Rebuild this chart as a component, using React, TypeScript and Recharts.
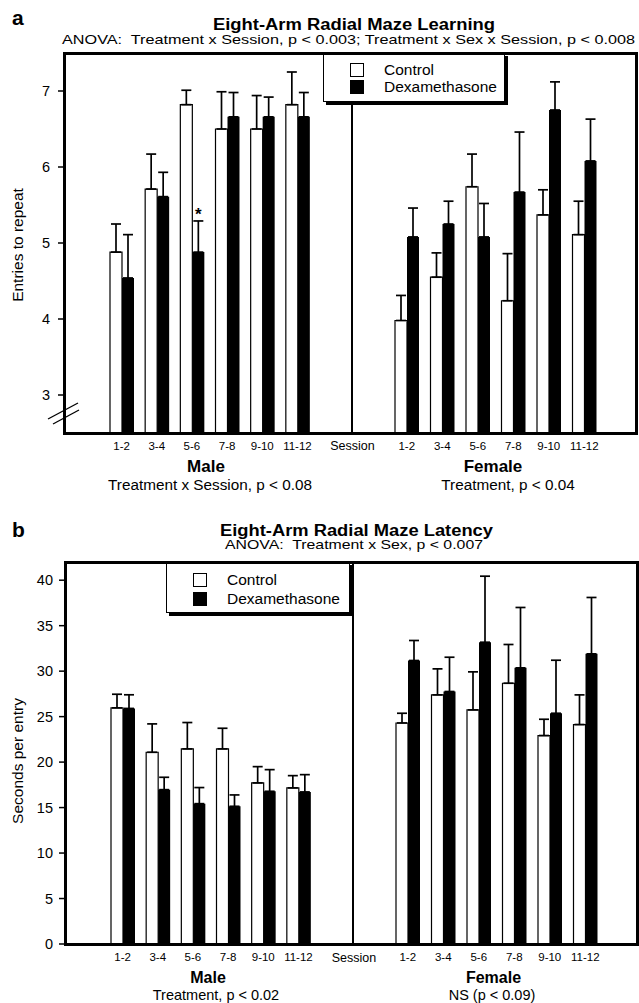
import React from "react"
import { Bar, BarChart, ErrorBar, LabelList, XAxis, YAxis } from "recharts"

// sessions (pairs of trials)
const sessions = ["1-2", "3-4", "5-6", "7-8", "9-10", "11-12"]

// a: entries to repeat, mean and SEM
const learnMaleControl = [4.88, 5.71, 6.82, 6.5, 6.5, 6.82]
const learnMaleControlSem = [0.37, 0.46, 0.19, 0.49, 0.44, 0.43]
const learnMaleDex = [4.54, 5.61, 4.88, 6.66, 6.66, 6.66]
const learnMaleDexSem = [0.57, 0.32, 0.41, 0.32, 0.26, 0.32]
const learnMaleSig = ["", "", "*", "", "", ""]
const learnFemaleControl = [3.98, 4.55, 5.74, 4.24, 5.37, 5.11]
const learnFemaleControlSem = [0.33, 0.32, 0.43, 0.62, 0.33, 0.44]
const learnFemaleDex = [5.08, 5.25, 5.08, 5.67, 6.75, 6.08]
const learnFemaleDexSem = [0.38, 0.3, 0.44, 0.79, 0.37, 0.55]
const learnTicks = [3, 4, 5, 6, 7]

// b: seconds per entry
const latMaleControl = [25.96, 21.08, 21.45, 21.45, 17.71, 17.16]
const latMaleControlSem = [1.5, 3.12, 2.9, 2.27, 1.79, 1.35]
const latMaleDex = [25.9, 16.97, 15.43, 15.14, 16.79, 16.72]
const latMaleDexSem = [1.5, 1.36, 1.77, 1.25, 2.38, 1.9]
const latFemaleControl = [24.3, 27.39, 25.74, 28.67, 22.92, 24.13]
const latFemaleControlSem = [1.07, 2.86, 4.18, 4.26, 1.79, 3.26]
const latFemaleDex = [31.17, 27.76, 33.18, 30.36, 25.37, 31.9]
const latFemaleDexSem = [2.2, 3.77, 7.26, 6.64, 5.83, 6.2]
const latTicks = [0, 5, 10, 15, 20, 25, 30, 35, 40]

const FONT = '"Liberation Sans", Arial, Helvetica, sans-serif'
const NARROW = '"Liberation Sans Narrow", "Liberation Sans", Arial, sans-serif'

function makeRows(c: number[], cs: number[], d: number[], ds: number[], sig?: string[]) {
  return sessions.map((s, i) => ({
    session: s,
    control: c[i],
    controlErr: [0, cs[i]],
    dex: d[i],
    dexErr: [0, ds[i]],
    sig: sig ? sig[i] : "",
  }))
}

const yLabel = (text: string, x: number, shift: number) => (props: any) => {
  const vb = props.viewBox || {}
  const y = vb.y + vb.height / 2 + shift
  return (
    <text x={x} y={y} transform={`rotate(-90 ${x} ${y})`} textAnchor="middle" fontSize={15.5} fontFamily={FONT} fill="#000">
      {text}
    </text>
  )
}

type PanelProps = {
  top: number
  plotTop: number
  plotBottom: number
  plotLeft: number
  divider: number
  plotRight: number
  male: any[]
  female: any[]
  domain: [number, number]
  ticks: number[]
  label: string
  labelShift: number
  tickMargin: number
  legend: { left: number; top: number; width: number; height: number; rows: [number, number] }
}

function Bars({ star }: { star?: boolean }) {
  return [
    <Bar key="c" dataKey="control" fill="#fff" stroke="#000" strokeWidth={1.2} barSize={12} isAnimationActive={false}>
      <ErrorBar dataKey="controlErr" width={5} stroke="#000" strokeWidth={1.7} direction="y" />
    </Bar>,
    <Bar key="d" dataKey="dex" fill="#000" barSize={12} isAnimationActive={false}>
      <ErrorBar dataKey="dexErr" width={5} stroke="#000" strokeWidth={1.7} direction="y" />
      {star && <LabelList dataKey="sig" position="top" offset={32} fill="#000" fontSize={17} fontWeight="bold" fontFamily={FONT} />}
    </Bar>,
  ]
}

function Panel(p: PanelProps) {
  const h = p.plotBottom - p.top + 30
  const xTick = { fill: "#000", fontSize: 11.5, fontFamily: NARROW }
  return (
    <>
      <div style={{ position: "absolute", left: 0, top: p.top }}>
        <BarChart width={p.divider} height={h} data={p.male} barGap={0}
          margin={{ top: p.plotTop - p.top, right: 0, left: 0, bottom: 0 }}>
          <XAxis dataKey="session" interval={0} axisLine={false} tickLine={false} tickSize={6} tickMargin={3}
            height={30} padding={{ left: 40, right: 37 }} tick={xTick} />
          <YAxis width={p.plotLeft} domain={p.domain} ticks={p.ticks} allowDataOverflow axisLine={false}
            tickLine={{ stroke: "#000", strokeWidth: 1.5 }} tickSize={6} tickMargin={p.tickMargin}
            tick={{ fill: "#000", fontSize: 14.5, fontFamily: FONT }}
            label={{ value: p.label, content: yLabel(p.label, 23, p.labelShift) }} />
          {Bars({ star: true })}
        </BarChart>
      </div>
      <div style={{ position: "absolute", left: p.divider, top: p.top }}>
        <BarChart width={639 - p.divider} height={h} data={p.female} barGap={0}
          margin={{ top: p.plotTop - p.top, right: 639 - p.plotRight, left: 0, bottom: 0 }}>
          <XAxis dataKey="session" interval={0} axisLine={false} tickLine={false} tickSize={6} tickMargin={3}
            height={30} padding={{ left: 37, right: 34 }} tick={xTick} />
          <YAxis hide domain={p.domain} ticks={p.ticks} allowDataOverflow />
          {Bars({})}
        </BarChart>
      </div>
      <div style={{ position: "absolute", left: p.divider - 0.65, top: p.plotTop, width: 1.3, height: p.plotBottom - p.plotTop, background: "#000" }} />
      <div style={{
        position: "absolute", left: p.legend.left, top: p.legend.top, width: p.legend.width, height: p.legend.height,
        background: "#fff", border: "1px solid #000", boxShadow: "3px 3px 0 #000", boxSizing: "border-box",
        fontFamily: FONT, fontSize: 15.5,
      }}>
        {["Control", "Dexamethasone"].map((name, i) => (
          <div key={name} style={{ position: "absolute", left: 26, top: p.legend.rows[i] - 1, height: 15, display: "flex", alignItems: "center" }}>
            <span style={{ width: 14, height: 14, boxSizing: "border-box", border: "1px solid #000", background: i ? "#000" : "#fff" }} />
            <span style={{ position: "absolute", left: 34, whiteSpace: "nowrap", lineHeight: "15px" }}>{name}</span>
          </div>
        ))}
      </div>
      <div style={{
        position: "absolute", left: p.plotLeft - 1.5, top: p.plotTop - 1.5,
        width: p.plotRight - p.plotLeft + 3, height: p.plotBottom - p.plotTop + 3,
        border: "3px solid #000", boxSizing: "border-box",
      }} />
    </>
  )
}

export default function App() {
  const learnMale = makeRows(learnMaleControl, learnMaleControlSem, learnMaleDex, learnMaleDexSem, learnMaleSig)
  const learnFemale = makeRows(learnFemaleControl, learnFemaleControlSem, learnFemaleDex, learnFemaleDexSem)
  const latMale = makeRows(latMaleControl, latMaleControlSem, latMaleDex, latMaleDexSem)
  const latFemale = makeRows(latFemaleControl, latFemaleControlSem, latFemaleDex, latFemaleDexSem)
  const t = { fontFamily: FONT, fill: "#000" }
  return (
    <div style={{ position: "absolute", left: 0, top: 0, width: 639, height: 1003, background: "#fff", fontFamily: FONT }}>
      <Panel top={0} plotTop={53} plotBottom={433} plotLeft={64} divider={352} plotRight={636}
        male={learnMale} female={learnFemale} domain={[2.5, 7.5]} ticks={learnTicks}
        label="Entries to repeat" labelShift={2} tickMargin={8}
        legend={{ left: 323, top: 53, width: 182, height: 49, rows: [9, 26] }} />
      <Panel top={500} plotTop={562} plotBottom={944} plotLeft={65} divider={353} plotRight={637}
        male={latMale} female={latFemale} domain={[0, 42]} ticks={latTicks}
        label="Seconds per entry" labelShift={8} tickMargin={6}
        legend={{ left: 166, top: 562, width: 184, height: 51, rows: [10, 29] }} />
      <svg width={639} height={1003} style={{ position: "absolute", left: 0, top: 0, pointerEvents: "none" }}>
        <g {...t}>
          <text x={12} y={25} fontSize={21} fontWeight="bold">a</text>
          <text x={213} y={30} fontSize={16} fontWeight="bold" textLength={282} lengthAdjust="spacingAndGlyphs">Eight-Arm Radial Maze Learning</text>
          <text x={62} y={43.5} fontSize={13} textLength={573} lengthAdjust="spacingAndGlyphs" xmlSpace="preserve">ANOVA:  Treatment x Session, p &lt; 0.003; Treatment x Sex x Session, p &lt; 0.008</text>
          <text x={352.5} y={450} fontSize={12.5} textAnchor="middle">Session</text>
          <text x={206} y={471.5} fontSize={17} fontWeight="bold" textAnchor="middle">Male</text>
          <text x={210} y={489.5} fontSize={15.3} textAnchor="middle">Treatment x Session, p &lt; 0.08</text>
          <text x={493} y={471.5} fontSize={17} fontWeight="bold" textAnchor="middle">Female</text>
          <text x={508} y={489.5} fontSize={15.3} textAnchor="middle">Treatment, p &lt; 0.04</text>
          <line x1={48} y1={419} x2={78} y2={403} stroke="#000" strokeWidth={1.3} />
          <line x1={53} y1={424} x2={79} y2={410} stroke="#000" strokeWidth={1.3} />

          <text x={12} y={537} fontSize={21} fontWeight="bold">b</text>
          <text x={220} y={536} fontSize={16} fontWeight="bold" textLength={273} lengthAdjust="spacingAndGlyphs">Eight-Arm Radial Maze Latency</text>
          <text x={225} y={549} fontSize={13} textLength={258} lengthAdjust="spacingAndGlyphs" xmlSpace="preserve">ANOVA:  Treatment x Sex, p &lt; 0.007</text>
          <text x={354} y={961.5} fontSize={12.5} textAnchor="middle">Session</text>
          <text x={208} y={982.5} fontSize={16} fontWeight="bold" textAnchor="middle">Male</text>
          <text x={216} y={999.5} fontSize={14.5} textAnchor="middle">Treatment, p &lt; 0.02</text>
          <text x={493.5} y={982.5} fontSize={16} fontWeight="bold" textAnchor="middle">Female</text>
          <text x={492} y={999.5} fontSize={14.5} textAnchor="middle">NS (p &lt; 0.09)</text>
        </g>
      </svg>
    </div>
  )
}
